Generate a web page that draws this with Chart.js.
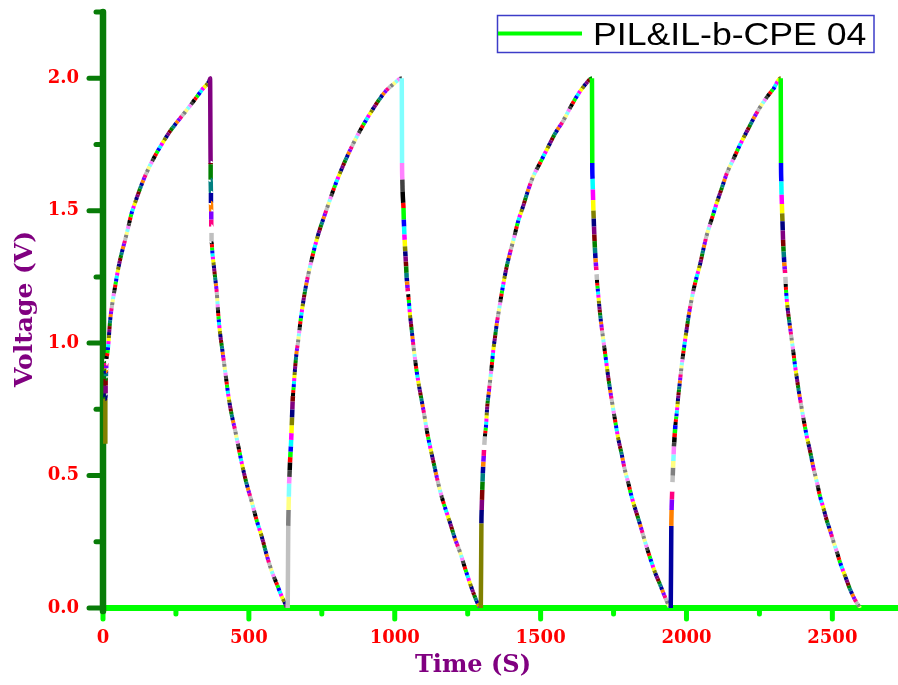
<!DOCTYPE html>
<html>
<head>
<meta charset="utf-8">
<title>PIL&amp;IL-b-CPE 04 charge/discharge</title>
<script src="https://cdn.jsdelivr.net/npm/chart.js@4.4.1/dist/chart.umd.min.js"></script>
<style>
  html, body { margin: 0; padding: 0; background: #fff; overflow: hidden; }
  canvas { display: block; }
</style>
</head>
<body>
<canvas id="gcd" width="898" height="685"></canvas>
<script>
// galvanostatic charge/discharge, four cycles: time (s) and voltage (V)
const cycle1Time = [8, 8, 9, 9, 9, 10, 10, 10, 11, 11, 11, 12,
  15, 18, 24, 32, 41, 52, 64, 76, 87, 98, 110, 126, 144, 170, 201, 230, 258, 287, 315, 342, 364, 367,
  369, 369, 369, 370, 370, 371, 371, 371, 372, 372,
  375, 378, 384, 390, 395, 401, 407, 418, 430, 441, 453, 464, 475, 492, 510, 527, 544, 561, 578, 596, 613, 624, 633];
const cycle1Volt = [0.62, 0.79, 0.81, 0.84, 0.865, 0.875, 0.885, 0.895, 0.905, 0.915, 0.925, 0.94,
  0.96, 0.99, 1.08, 1.15, 1.21, 1.28, 1.34, 1.39, 1.44, 1.49, 1.53, 1.58, 1.63, 1.69, 1.75, 1.80, 1.84, 1.88, 1.92, 1.96, 1.99, 2.0,
  1.68, 1.675, 1.617, 1.567, 1.529, 1.497, 1.466, 1.44, 1.416, 1.384,
  1.34, 1.31, 1.25, 1.19, 1.11, 1.04, 0.99, 0.90, 0.80, 0.73, 0.67, 0.61, 0.55, 0.47, 0.40, 0.33, 0.27, 0.20, 0.14, 0.09, 0.043, 0.018, 0.0];

const cycle2Time = [635, 636, 637, 638, 639, 640, 641, 642, 643, 644, 645, 646, 647, 648, 649, 650, 651,
  654, 658, 663, 668, 679, 693, 712, 735, 765, 797, 835, 880, 935, 968, 998, 1024,
  1025, 1026, 1027, 1029, 1030, 1031, 1032, 1033, 1034, 1035, 1036, 1037, 1038, 1039, 1040, 1041, 1042, 1043, 1044, 1045, 1046,
  1049, 1052, 1056, 1060, 1064, 1069, 1075, 1083, 1092, 1101, 1110, 1121, 1133, 1147, 1161, 1175, 1190, 1207, 1224, 1241, 1258, 1272, 1287, 1295];
const cycle2Volt = [0.31, 0.37, 0.42, 0.47, 0.495, 0.52, 0.55, 0.57, 0.59, 0.61, 0.635, 0.66, 0.69, 0.72, 0.75, 0.78, 0.80,
  0.84, 0.90, 0.96, 1.0, 1.1, 1.2, 1.3, 1.4, 1.5, 1.6, 1.7, 1.8, 1.9, 1.95, 1.98, 2.0,
  1.68, 1.617, 1.573, 1.529, 1.51, 1.466, 1.44, 1.41, 1.39, 1.365, 1.346, 1.327, 1.308, 1.29, 1.265, 1.246, 1.233, 1.22, 1.208, 1.195, 1.185,
  1.15, 1.11, 1.07, 1.03, 0.99, 0.945, 0.895, 0.84, 0.785, 0.73, 0.67, 0.61, 0.55, 0.48, 0.42, 0.37, 0.32, 0.26, 0.21, 0.15, 0.093, 0.05, 0.011, 0.0];

const cycle3Time = [1297, 1298, 1299, 1300, 1301, 1302, 1303, 1304, 1305, 1306, 1307, 1309,
  1313, 1317, 1322, 1327, 1333, 1338, 1344, 1350, 1358, 1367, 1375, 1384, 1395, 1407, 1423, 1441, 1458, 1475, 1498, 1521, 1549, 1578, 1607, 1635, 1656, 1676,
  1677, 1678, 1679, 1680, 1681, 1682, 1683, 1684, 1685, 1686, 1687, 1688, 1689, 1690, 1691, 1692, 1693,
  1697, 1702, 1708, 1714, 1720, 1726, 1732, 1743, 1755, 1766, 1778, 1789, 1801, 1812, 1824, 1841, 1858, 1875, 1892, 1910, 1925, 1939, 1946];
const cycle3Volt = [0.32, 0.37, 0.408, 0.446, 0.477, 0.509, 0.534, 0.553, 0.574, 0.597, 0.616, 0.647,
  0.69, 0.76, 0.81, 0.86, 0.92, 0.975, 1.025, 1.075, 1.13, 1.19, 1.24, 1.29, 1.34, 1.39, 1.46, 1.52, 1.58, 1.63, 1.68, 1.73, 1.79, 1.84, 1.90, 1.95, 1.98, 2.0,
  1.68, 1.62, 1.58, 1.54, 1.5, 1.47, 1.44, 1.41, 1.385, 1.36, 1.34, 1.32, 1.305, 1.29, 1.275, 1.26, 1.24,
  1.19, 1.13, 1.07, 1.02, 0.97, 0.92, 0.87, 0.79, 0.71, 0.64, 0.58, 0.52, 0.47, 0.42, 0.375, 0.315, 0.25, 0.19, 0.135, 0.087, 0.045, 0.01, 0.0];

const cycle4Time = [1948, 1949, 1950, 1951, 1952, 1953, 1954, 1955, 1956, 1957, 1958, 1959, 1960, 1961, 1962,
  1967, 1972, 1978, 1984, 1990, 1995, 2001, 2007, 2015, 2024, 2035, 2047, 2058, 2070, 2087, 2104, 2121, 2138, 2161, 2184, 2212, 2241, 2270, 2298, 2323,
  2324, 2325, 2326, 2327, 2328, 2329, 2330, 2331, 2332, 2333, 2334, 2335, 2336, 2337, 2338, 2339, 2340,
  2344, 2349, 2355, 2361, 2367, 2372, 2378, 2384, 2390, 2401, 2412, 2424, 2435, 2447, 2458, 2470, 2481, 2493, 2504, 2516, 2527, 2544, 2561, 2578, 2595];
const cycle4Volt = [0.31, 0.37, 0.41, 0.44, 0.475, 0.50, 0.53, 0.555, 0.58, 0.61, 0.625, 0.645, 0.66, 0.675, 0.69,
  0.74, 0.80, 0.86, 0.92, 0.97, 1.01, 1.055, 1.10, 1.15, 1.20, 1.25, 1.30, 1.355, 1.41, 1.47, 1.53, 1.585, 1.64, 1.695, 1.75, 1.81, 1.87, 1.92, 1.96, 2.0,
  1.68, 1.61, 1.56, 1.525, 1.49, 1.46, 1.425, 1.39, 1.365, 1.345, 1.325, 1.305, 1.29, 1.278, 1.264, 1.25, 1.224,
  1.16, 1.11, 1.06, 1.01, 0.96, 0.915, 0.87, 0.825, 0.785, 0.715, 0.65, 0.59, 0.53, 0.475, 0.42, 0.375, 0.33, 0.29, 0.25, 0.21, 0.17, 0.12, 0.07, 0.03, 0.0];

const xTicks = [0, 500, 1000, 1500, 2000, 2500];
const yTicks = [0.0, 0.5, 1.0, 1.5, 2.0];
const seriesLabel = 'PIL&IL-b-CPE 04';

// Origin-style increment palette, one colour per data point
const palette = ['#000000', '#ff0000', '#00ff00', '#0000ff', '#00ffff', '#ff00ff', '#ffff00', '#808000',
  '#000080', '#800080', '#800000', '#008000', '#008080', '#0000a0', '#ff8000', '#8000ff',
  '#ff0080', '#ffffff', '#c0c0c0', '#808080', '#ffff80', '#80ffff', '#ff80ff', '#404040'];
// palette index at which each fast step (IR drop / charge onset) starts
const jumpStart = [7, 9, 18, 21, 7, 2, 13, 2];

const allTime = [...cycle1Time, ...cycle2Time, ...cycle3Time, ...cycle4Time];
const allVolt = [...cycle1Volt, ...cycle2Volt, ...cycle3Volt, ...cycle4Volt];
const points = allTime.map((t, i) => ({ x: t, y: allVolt[i] }));

// segments sampled closer than 2 s are the steep steps: solid colour bands
const jumpColor = [];
let run = -1, step = 0, inRun = false;
for (let i = 0; i < points.length - 1; i++) {
  if (points[i + 1].x - points[i].x <= 2) {
    if (!inRun) { run++; step = 0; inRun = true; }
    jumpColor[i] = palette[(jumpStart[run] + step) % palette.length];
    step++;
  } else {
    inRun = false;
    jumpColor[i] = null;
  }
}

const datasets = [{
  label: seriesLabel,
  data: points,
  borderWidth: 4.5,
  borderColor: '#00ff00',
  pointRadius: 0,
  segment: { borderColor: c => jumpColor[c.p0DataIndex] || 'rgba(0,0,0,0)' }
}];

// the slow parts look like a chain of small multicoloured markers
const chainColors = palette.filter(c => c !== '#ffffff');
const dash = 3;
chainColors.forEach((col, k) => {
  datasets.push({
    label: 'chain' + k,
    data: points,
    borderWidth: 4,
    borderColor: col,
    borderDash: [dash, dash * (chainColors.length - 1)],
    borderDashOffset: -dash * k,
    pointRadius: 0,
    segment: { borderColor: c => jumpColor[c.p0DataIndex] ? 'rgba(0,0,0,0)' : col }
  });
});

const tickFont = { family: 'DejaVu Serif', weight: 'bold', size: 18 };

// keep the plot box fixed: no extra room for half-labels at the ends
const noPad = s => { s.paddingTop = 0; s.paddingBottom = 0; s.paddingLeft = 0; s.paddingRight = 0; };

const axesPlugin = {
  id: 'originAxes',
  beforeDatasetsDraw(chart) {
    const { ctx, chartArea: a, scales: { x, y } } = chart;
    const y0 = y.getPixelForValue(0);
    ctx.save();
    ctx.lineCap = 'round';

    // bottom axis
    ctx.strokeStyle = '#00ff00';
    ctx.lineWidth = 6;
    ctx.beginPath();
    ctx.moveTo(a.left, y0);
    ctx.lineTo(chart.width + 10, y0);
    ctx.stroke();
    ctx.lineWidth = 5;
    for (let v = 0; v <= x.max; v += 250) {
      const px = x.getPixelForValue(v);
      const len = v % 500 === 0 ? 11 : 6;
      ctx.beginPath();
      ctx.moveTo(px, y0);
      ctx.lineTo(px, y0 + len);
      ctx.stroke();
    }

    // left axis
    ctx.strokeStyle = '#087c08';
    ctx.lineWidth = 6.5;
    ctx.beginPath();
    ctx.moveTo(a.left, a.top);
    ctx.lineTo(a.left, y0 + 3);
    ctx.stroke();
    ctx.lineWidth = 5;
    for (let v = 0; v <= y.max + 1e-9; v += 0.25) {
      const py = y.getPixelForValue(v);
      const len = Math.abs(v / 0.5 - Math.round(v / 0.5)) < 1e-6 ? 14 : 7;
      ctx.beginPath();
      ctx.moveTo(a.left, py);
      ctx.lineTo(a.left - len, py);
      ctx.stroke();
    }
    ctx.restore();
  },
  afterDraw(chart) {
    const { ctx } = chart;
    ctx.save();
    // axis titles
    ctx.fillStyle = '#800080';
    ctx.font = 'bold 25px "DejaVu Serif"';
    ctx.textAlign = 'center';
    ctx.textBaseline = 'middle';
    ctx.save();
    ctx.translate(25, 309);
    ctx.rotate(-Math.PI / 2);
    ctx.fillText('Voltage (V)', 0, 0);
    ctx.restore();
    ctx.font = 'bold 24px "DejaVu Serif"';
    ctx.fillText('Time (S)', 473, 666);

    // legend box
    ctx.strokeStyle = '#3c3cc8';
    ctx.lineWidth = 1.5;
    ctx.strokeRect(497.5, 15.5, 376.5, 37);
    ctx.strokeStyle = '#00ff00';
    ctx.lineWidth = 4;
    ctx.beginPath();
    ctx.moveTo(498, 33.5);
    ctx.lineTo(582, 33.5);
    ctx.stroke();
    ctx.fillStyle = '#000000';
    ctx.font = '31px "Liberation Sans"';
    ctx.textAlign = 'left';
    ctx.textBaseline = 'alphabetic';
    ctx.translate(593, 45);
    ctx.scale(1.15, 1);
    ctx.fillText(chart.data.datasets[0].label, 0, 0);
    ctx.restore();
  }
};

new Chart(document.getElementById('gcd'), {
  type: 'line',
  data: { datasets },
  options: {
    responsive: false,
    animation: false,
    events: [],
    layout: { padding: { top: 12, right: 0, bottom: 0, left: 0 } },
    elements: { line: { cubicInterpolationMode: 'monotone', borderJoinStyle: 'bevel' } },
    plugins: { legend: { display: false }, tooltip: { enabled: false } },
    scales: {
      x: {
        type: 'linear',
        min: 0,
        max: 2725,
        afterFit: s => { s.height = 77; noPad(s); },
        afterBuildTicks: s => { s.ticks = xTicks.map(v => ({ value: v })); },
        border: { display: false },
        grid: { display: false, drawTicks: false },
        ticks: { font: tickFont, color: '#ff0000', padding: 20, maxRotation: 0, autoSkip: false, callback: v => String(v) }
      },
      y: {
        type: 'linear',
        min: 0,
        max: 2.25,
        afterFit: s => { s.width = 103; noPad(s); },
        afterBuildTicks: s => { s.ticks = yTicks.map(v => ({ value: v })); },
        border: { display: false },
        grid: { display: false, drawTicks: false },
        ticks: { font: tickFont, color: '#ff0000', padding: 24, callback: v => v.toFixed(1) }
      }
    }
  },
  plugins: [axesPlugin]
});
</script>
</body>
</html>
